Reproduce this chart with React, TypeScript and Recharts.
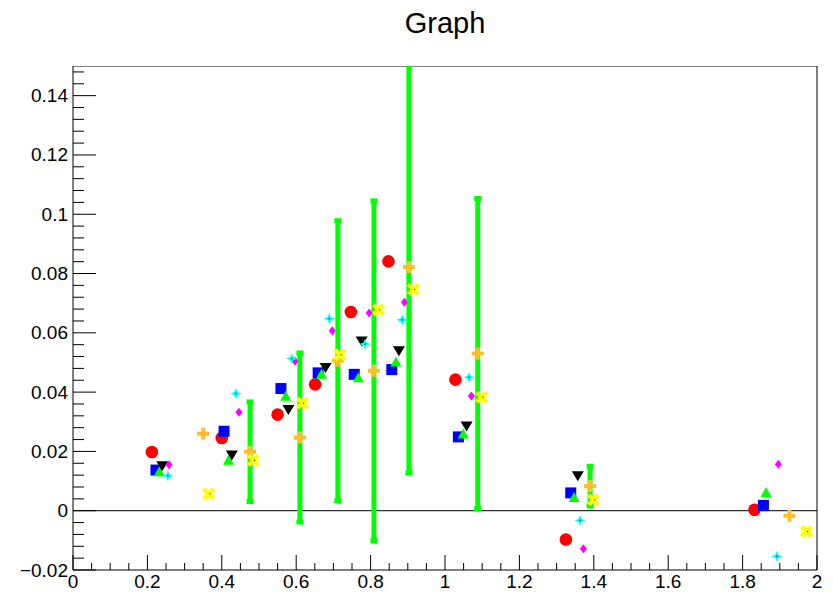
import { ScatterChart, Scatter, XAxis, YAxis, ErrorBar, ReferenceLine, ReferenceArea } from 'recharts'

// marker series, one pair of arrays per graph
const circleX = [0.212, 0.400, 0.550, 0.651, 0.747, 0.848, 1.028, 1.325, 1.832]
const circleY = [0.0198, 0.0245, 0.0324, 0.0426, 0.0670, 0.0841, 0.0442, -0.0097, 0.0003]

const squareX = [0.223, 0.406, 0.559, 0.659, 0.756, 0.857, 1.036, 1.338, 1.856]
const squareY = [0.0137, 0.0268, 0.0412, 0.0465, 0.0460, 0.0476, 0.0249, 0.0060, 0.0018]

const triUpX = [0.232, 0.418, 0.572, 0.668, 0.767, 0.868, 1.049, 1.347, 1.863]
const triUpY = [0.0133, 0.0172, 0.0388, 0.0462, 0.0450, 0.0503, 0.0260, 0.0046, 0.0063]

const triDownX = [0.240, 0.427, 0.579, 0.679, 0.776, 0.876, 1.058, 1.357]
const triDownY = [0.0150, 0.0186, 0.0340, 0.0481, 0.0571, 0.0538, 0.0284, 0.0116]

const diamondX = [0.258, 0.446, 0.597, 0.697, 0.796, 0.891, 1.071, 1.372, 1.896]
const diamondY = [0.0155, 0.0332, 0.0504, 0.0607, 0.0667, 0.0703, 0.0387, -0.0128, 0.0157]

const starX = [0.255, 0.438, 0.588, 0.689, 0.785, 0.885, 1.065, 1.363, 1.892]
const starY = [0.0118, 0.0395, 0.0513, 0.0648, 0.0562, 0.0644, 0.0450, -0.0033, -0.0154]

const plusX = [0.350, 0.476, 0.610, 0.712, 0.809, 0.903, 1.088, 1.390, 1.926]
const plusY = [0.0260, 0.0199, 0.0247, 0.0506, 0.0472, 0.0822, 0.0530, 0.0083, -0.0017]
const plusErr = [0, 0.0168, 0.0285, 0.0472, 0.0573, 0.0694, 0.0523, 0.0067, 0]

const crossX = [0.365, 0.485, 0.617, 0.718, 0.821, 0.915, 1.099, 1.399, 1.972]
const crossY = [0.0057, 0.0170, 0.0363, 0.0526, 0.0678, 0.0747, 0.0383, 0.0037, -0.0070]

const xMajorTicks = [0, 0.2, 0.4, 0.6, 0.8, 1, 1.2, 1.4, 1.6, 1.8, 2]
const yMajorTicks = [-0.02, 0, 0.02, 0.04, 0.06, 0.08, 0.1, 0.12, 0.14]

const X_MIN = 0
const X_MAX = 2
const Y_MIN = -0.02
const Y_MAX = 0.15

const WIDTH = 833
const HEIGHT = 592
const MARGIN = { top: 66, right: 16, bottom: 0, left: 0 }
const Y_AXIS_W = 73
const X_AXIS_H = 22

const FONT = '"Liberation Sans", Arial, Helvetica, sans-serif'

const zip = (xs: number[], ys: number[]) => xs.map((x, i) => ({ x, y: ys[i] }))

// majors plus n subdivisions each, carried on up to the axis end
function withMinor(majors: number[], n: number, max: number) {
  const step = (majors[1] - majors[0]) / n
  const out: number[] = []
  for (let i = 0; ; i++) {
    const v = +(majors[0] + i * step).toFixed(6)
    if (v > max + 1e-9) break
    out.push(v)
  }
  return out
}

const isMajor = (v: number, majors: number[]) => majors.some((t) => Math.abs(t - v) < 1e-6)
const fmt = (v: number) => String(+v.toFixed(3)).replace('-', '\u2212')

function YTick({ x, y, payload }: any) {
  const major = isMajor(payload.value, yMajorTicks)
  return (
    <g>
      <line x1={x} x2={x + (major ? 23 : 11)} y1={y} y2={y} stroke="#000" />
      {major && (
        <text x={x - 5} y={y + 6.5} textAnchor="end" fontSize={19} fontFamily={FONT} fill="#000">
          {fmt(payload.value)}
        </text>
      )}
    </g>
  )
}

function XTick({ x, y, payload }: any) {
  const major = isMajor(payload.value, xMajorTicks)
  return (
    <g>
      <line x1={x} x2={x} y1={y} y2={y - (major ? 15 : 7)} stroke="#000" />
      {major && (
        <text x={x} y={y + 17.5} textAnchor="middle" fontSize={19} fontFamily={FONT} fill="#000">
          {fmt(payload.value)}
        </text>
      )}
    </g>
  )
}

// marker shapes
const Circle = ({ cx, cy }: any) => <circle cx={cx} cy={cy} r={6.3} fill="#ff0000" />
const Square = ({ cx, cy }: any) => <rect x={cx - 5.5} y={cy - 5.5} width={11} height={11} fill="#0000ff" />
const TriUp = ({ cx, cy }: any) => (
  <polygon points={`${cx - 5.5},${cy + 5} ${cx + 5.5},${cy + 5} ${cx},${cy - 5}`} fill="#00ff00" />
)
const TriDown = ({ cx, cy }: any) => (
  <polygon points={`${cx - 6},${cy - 5} ${cx + 6},${cy - 5} ${cx},${cy + 5}`} fill="#000000" />
)
const Diamond = ({ cx, cy }: any) => (
  <polygon points={`${cx},${cy - 4.5} ${cx + 3.5},${cy} ${cx},${cy + 4.5} ${cx - 3.5},${cy}`} fill="#ff00ff" />
)
const Star = ({ cx, cy }: any) => {
  const o = 5.5
  const i = 1.6
  const d = `M${cx},${cy - o} L${cx + i},${cy - i} L${cx + o},${cy} L${cx + i},${cy + i} L${cx},${cy + o} L${cx - i},${cy + i} L${cx - o},${cy} L${cx - i},${cy - i} Z`
  return (
    <g>
      <path d={d} fill="#00ffff" />
      <rect x={cx - 0.8} y={cy - 0.8} width={1.6} height={1.6} fill="#1a6a6a" />
    </g>
  )
}
const Plus = ({ cx, cy }: any) => (
  <g fill="#ffbe28">
    <rect x={cx - 6} y={cy - 2} width={12} height={4} />
    <rect x={cx - 2} y={cy - 6} width={4} height={12} />
  </g>
)
const Cross = ({ cx, cy }: any) => (
  <g>
    <g fill="#ffff00" transform={`rotate(45 ${cx} ${cy})`}>
      <rect x={cx - 7} y={cy - 2.2} width={14} height={4.4} />
      <rect x={cx - 2.2} y={cy - 7} width={4.4} height={14} />
    </g>
    <rect x={cx + 0.5} y={cy - 0.5} width={1.2} height={1.2} fill="#444" />
  </g>
)
const Empty = () => <g />

const plusData = plusX.map((x, i) => ({ x, y: plusY[i], err: plusErr[i] }))
const barData = plusData.filter((d) => d.err > 0)

export default function App() {
  const plotLeft = MARGIN.left + Y_AXIS_W
  const plotWidth = WIDTH - plotLeft - MARGIN.right
  return (
    <div style={{ position: 'absolute', left: 0, top: 0, width: WIDTH, height: HEIGHT, background: '#fff' }}>
      <ScatterChart width={WIDTH} height={HEIGHT} margin={MARGIN}>
        <XAxis
          type="number"
          dataKey="x"
          domain={[X_MIN, X_MAX]}
          allowDataOverflow
          ticks={withMinor(xMajorTicks, 4, X_MAX)}
          interval={0}
          tickSize={0}
          tickMargin={0}
          tickLine={false}
          axisLine={false}
          tick={(p: any) => <XTick {...p} />}
          height={X_AXIS_H}
        />
        <YAxis
          type="number"
          dataKey="y"
          domain={[Y_MIN, Y_MAX]}
          allowDataOverflow
          ticks={withMinor(yMajorTicks, 5, Y_MAX)}
          interval={0}
          tickSize={0}
          tickMargin={0}
          tickLine={false}
          axisLine={false}
          tick={(p: any) => <YTick {...p} />}
          width={Y_AXIS_W}
        />
        <ReferenceLine y={0} stroke="#000" strokeWidth={1} />
        <Scatter data={zip(circleX, circleY)} shape={Circle} isAnimationActive={false} />
        <Scatter data={zip(squareX, squareY)} shape={Square} isAnimationActive={false} />
        <Scatter data={zip(triUpX, triUpY)} shape={TriUp} isAnimationActive={false} />
        <Scatter data={zip(triDownX, triDownY)} shape={TriDown} isAnimationActive={false} />
        <Scatter data={zip(diamondX, diamondY)} shape={Diamond} isAnimationActive={false} />
        <Scatter data={zip(starX, starY)} shape={Star} isAnimationActive={false} />
        <Scatter data={barData} shape={Empty} isAnimationActive={false}>
          <ErrorBar
            dataKey="err"
            direction="y"
            stroke="#00ff00"
            strokeWidth={5}
            width={3.5}
            isAnimationActive={false}
          />
        </Scatter>
        <Scatter data={plusData} shape={Plus} isAnimationActive={false} />
        <Scatter data={zip(crossX, crossY)} shape={Cross} isAnimationActive={false} />
        <ReferenceArea
          x1={X_MIN}
          x2={X_MAX}
          y1={Y_MIN}
          y2={Y_MAX}
          fill="none"
          stroke="#000"
          strokeWidth={1}
          ifOverflow="visible"
        />
      </ScatterChart>
      {/* error bars are not clipped to the frame, so mask the strip above it */}
      <div
        style={{
          position: 'absolute',
          left: plotLeft,
          top: 0,
          width: plotWidth,
          height: MARGIN.top - 0.5,
          background: '#fff',
        }}
      />
      <div
        style={{
          position: 'absolute',
          left: plotLeft,
          top: 8.5,
          width: plotWidth,
          textAlign: 'center',
          fontFamily: FONT,
          fontSize: 29,
          lineHeight: '29px',
          color: '#000',
        }}
      >
        Graph
      </div>
    </div>
  )
}
